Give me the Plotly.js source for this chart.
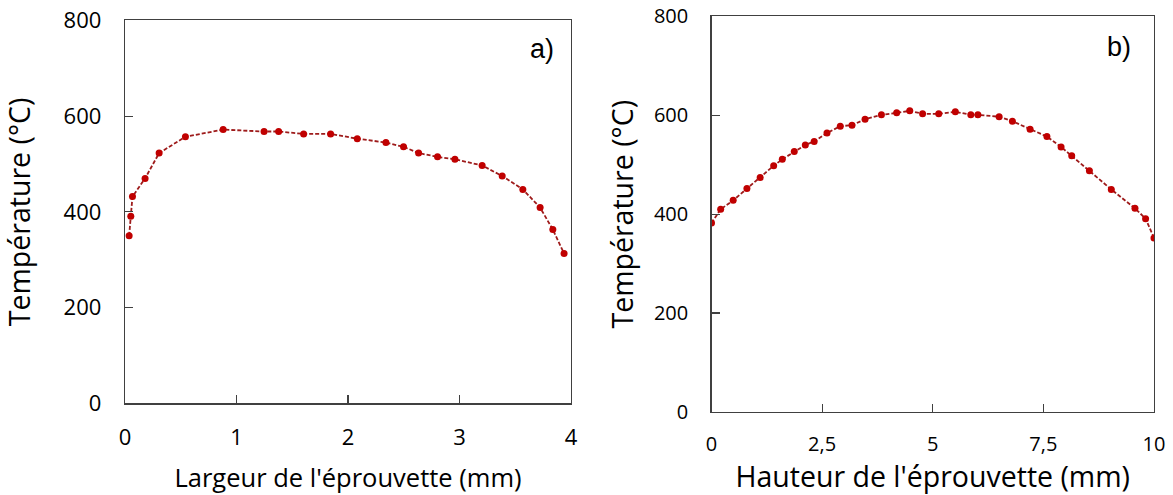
<!DOCTYPE html>
<html>
<head>
<meta charset="utf-8">
<script src="https://cdn.plot.ly/plotly-3.0.1.min.js"></script>
<style>html,body{margin:0;padding:0;background:#fff;}#chart{width:1173px;height:495px;}</style>
</head>
<body>
<div id="chart"></div>
<script>
// a) Largeur de l'éprouvette
const largeurMm = [0.037, 0.052, 0.067, 0.18, 0.306, 0.542, 0.88, 1.247, 1.378, 1.602, 1.844, 2.083, 2.34, 2.498, 2.633, 2.803, 2.959, 3.203, 3.383, 3.568, 3.723, 3.837, 3.938];
const tempLargeur = [350, 391, 432, 470, 523, 557, 572, 568, 568, 563, 563, 553, 545, 536, 523, 515, 510, 497, 475, 447, 409, 363, 313];

// b) Hauteur de l'éprouvette
const hauteurMm = [0, 0.207, 0.49, 0.80, 1.10, 1.405, 1.60, 1.87, 2.12, 2.32, 2.61, 2.91, 3.175, 3.47, 3.84, 4.185, 4.48, 4.77, 5.135, 5.51, 5.86, 6.02, 6.50, 6.80, 7.20, 7.58, 7.90, 8.14, 8.54, 9.035, 9.57, 9.81, 10.0];
const tempHauteur = [382, 410, 428, 452, 474, 498, 511, 527, 540, 547, 564, 578, 580, 592, 601, 605, 609, 603, 603, 607, 601, 601, 597, 588, 572, 557, 536, 518, 488, 450, 412, 391, 352];

const xTicksA = [0, 1, 2, 3, 4];
const xTickTextA = ['0', '1', '2', '3', '4'];
const xTicksB = [0, 2.5, 5, 7.5, 10];
const xTickTextB = ['0', '2,5', '5', '7,5', '10'];
const yTicks = [0, 200, 400, 600, 800];
const yTickText = ['0', '200', '400', '600', '800'];

const FONT = 'Open Sans, Noto Sans, sans-serif';
const lineCol = '#9e1b1b';
const markCol = '#c00000';

const traces = [
  {x: largeurMm, y: tempLargeur, type: 'scatter', mode: 'lines+markers', xaxis: 'x', yaxis: 'y',
   line: {color: lineCol, width: 1.8, dash: '4px,2px'}, marker: {color: markCol, size: 7}, showlegend: false, hoverinfo: 'x+y'},
  {x: hauteurMm, y: tempHauteur, type: 'scatter', mode: 'lines+markers', xaxis: 'x2', yaxis: 'y2',
   line: {color: lineCol, width: 1.8, dash: '4px,2px'}, marker: {color: markCol, size: 7}, showlegend: false, hoverinfo: 'x+y'}
];

const axBase = {showgrid: false, zeroline: false, showline: true, linecolor: '#404040', linewidth: 1.3,
  mirror: true, ticks: 'inside', tickcolor: '#404040', ticklen: 8, tickwidth: 1.2, automargin: false, fixedrange: true};

const layout = {
  width: 1173, height: 495, autosize: false,
  margin: {l: 0, r: 0, t: 0, b: 0},
  paper_bgcolor: '#ffffff', plot_bgcolor: '#ffffff',
  font: {family: FONT, color: '#000000'},
  xaxis: Object.assign({}, axBase, {domain: [0.10657, 0.48678], range: [0, 4], anchor: 'y',
    tickvals: xTicksA, ticktext: xTickTextA, tickfont: {size: 22, family: FONT, color: '#000'}, ticklabelstandoff: 14,
    title: {text: "Largeur de l'éprouvette (mm)", font: {size: 25.5, family: FONT, color: '#000'}, standoff: 19}}),
  yaxis: Object.assign({}, axBase, {domain: [0.18525, 0.95859], range: [0, 800], anchor: 'x',
    tickvals: yTicks, ticktext: yTickText, tickfont: {size: 22, family: FONT, color: '#000'}, ticklabelstandoff: 18,
    title: {text: 'Température (°C)', font: {size: 28.5, family: FONT, color: '#000'}, standoff: 26}}),
  xaxis2: Object.assign({}, axBase, {domain: [0.60657, 0.98380], range: [0, 10], anchor: 'y2',
    tickvals: xTicksB, ticktext: xTickTextB, tickfont: {size: 20, family: FONT, color: '#000'}, ticklabelstandoff: 14,
    title: {text: "Hauteur de l'éprouvette (mm)", font: {size: 28.5, family: FONT, color: '#000'}, standoff: 8}}),
  yaxis2: Object.assign({}, axBase, {domain: [0.16768, 0.96687], range: [0, 800], anchor: 'x2',
    tickvals: yTicks, ticktext: yTickText, tickfont: {size: 20, family: FONT, color: '#000'}, ticklabelstandoff: 18,
    title: {text: 'Température (°C)', font: {size: 28.5, family: FONT, color: '#000'}, standoff: 12}}),
  annotations: [
    {text: 'a)', xref: 'x', yref: 'y', x: 3.74, y: 740, showarrow: false, xanchor: 'center', yanchor: 'middle',
     font: {family: 'Liberation Sans, Arial, sans-serif', size: 27, color: '#000'}},
    {text: 'b)', xref: 'x2', yref: 'y2', x: 9.22, y: 738, showarrow: false, xanchor: 'center', yanchor: 'middle',
     font: {family: 'Liberation Sans, Arial, sans-serif', size: 27, color: '#000'}}
  ]
};

Plotly.newPlot('chart', traces, layout, {displayModeBar: false, staticPlot: true});
</script>
</body>
</html>
